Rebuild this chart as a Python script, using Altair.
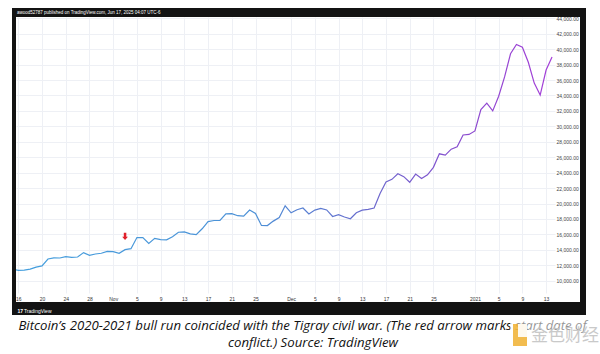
import altair as alt
import pandas as pd

# ---- data (daily closes) ----
dates = [d.strftime("%Y-%m-%d") for d in pd.date_range("2020-10-15", "2021-01-14", freq="D")]
closes = [
    11500, 11330, 11370, 11500, 11750, 11910, 12810, 12960, 12940, 13120, 13030,
    13070, 13640, 13280, 13460, 13560, 13800,
    13760, 13550, 14020, 14150, 15590, 15580, 14830, 15480, 15330, 15300, 15700,
    16280, 16320, 16070, 15960, 16730, 17660, 17800, 17820, 18660, 18690, 18420,
    18370, 19160, 18720, 17150, 17140, 17720, 18180, 19700,
    18800, 19200, 19420, 18650, 19150, 19360, 19170, 18320, 18550, 18250, 18030,
    18800, 19140, 19250, 19420, 21310, 22800, 23130, 23860, 23480, 22750, 23820,
    23240, 23720, 24690, 26440, 26260, 27040, 27360, 28880, 28950,
    29400, 32180, 33000, 32000, 33900, 36400, 39400, 40600, 40250, 38300, 35600,
    34050, 37300, 39000,
]
tick_dates = ["2020-10-16", "2020-10-20", "2020-10-24", "2020-10-28", "2020-11-01",
              "2020-11-05", "2020-11-09", "2020-11-13", "2020-11-17", "2020-11-21",
              "2020-11-25", "2020-12-01", "2020-12-05", "2020-12-09", "2020-12-13",
              "2020-12-17", "2020-12-21", "2020-12-25", "2021-01-01", "2021-01-05",
              "2021-01-09", "2021-01-13"]
tick_labels = ["16", "20", "24", "28", "Nov", "5", "9", "13", "17", "21", "25",
               "Dec", "5", "9", "13", "17", "21", "25", "2021", "5", "9", "13"]
price_ticks = list(range(10000, 44001, 2000))
arrow_date = ["2020-11-03"]
arrow_price = [15730]

header = "awood52787 published on TradingView.com, Jun 17, 2025 04:07 UTC-6"
caption1 = "Bitcoin\u2019s 2020-2021 bull run coincided with the Tigray civil war. (The red arrow marks start date of"
caption2 = "conflict.) Source: TradingView"

df = pd.DataFrame({"date": dates, "close": closes})
arrow_df = pd.DataFrame({"date": arrow_date, "close": arrow_price})
one = pd.DataFrame({"k": [0]})

tick_ms = [int(pd.Timestamp(t, tz="UTC").timestamp() * 1000) for t in tick_dates]
label_expr = "[" + ",".join('"%s"' % l for l in tick_labels) + "][indexof([" + \
    ",".join(str(t) for t in tick_ms) + "], time(datum.value))]"

W, H = 539, 276

x_scale = alt.Scale(type="utc",
                    domain=[alt.DateTime(year=2020, month=10, date=15, hours=14, minutes=40, utc=True),
                            alt.DateTime(year=2021, month=1, date=14, hours=12, utc=True)])
y_scale = alt.Scale(domain=[8406, 44168], nice=False, zero=False)

x_axis = alt.Axis(values=tick_ms, labelExpr=label_expr, title=None, ticks=False, domain=False,
                  grid=True, gridColor="#eef0f5", gridWidth=1, labelFontSize=5,
                  labelColor="#333333", labelFont="Liberation Sans", labelPadding=3,
                  labelOverlap=False, labelFlush=False)
y_axis = alt.Axis(orient="right", values=price_ticks, format=",.2f", title=None, ticks=False,
                  domain=False, grid=True, gridColor="#eef0f5", gridWidth=1, labelFontSize=5,
                  labelColor="#444444", labelFont="Liberation Sans", labelPadding=1,
                  labelOverlap=False, labelFlush=False)

grad = alt.Gradient(gradient="linear",
                    stops=[alt.GradientStop(color="#45a0de", offset=0),
                           alt.GradientStop(color="#4c90d6", offset=0.45),
                           alt.GradientStop(color="#6a6acd", offset=0.66),
                           alt.GradientStop(color="#8c4acf", offset=0.85),
                           alt.GradientStop(color="#a43ed8", offset=1)],
                    x1=0, x2=1, y1=0, y2=0)

line = alt.Chart(df).mark_line(color=grad, strokeWidth=1.2, clip=True).encode(
    x=alt.X("date:T", scale=x_scale, axis=x_axis),
    y=alt.Y("close:Q", scale=y_scale, axis=y_axis),
)

arrow_path = "M-0.35,-1 L0.35,-1 L0.35,0.1 L0.8,0.1 L0,1 L-0.8,0.1 L-0.35,0.1 Z"
arrow = alt.Chart(arrow_df).mark_point(shape=arrow_path, filled=True, color="#e0202a",
                                       opacity=1, size=52).encode(
    x=alt.X("date:T", scale=x_scale, axis=x_axis), y=alt.Y("close:Q", scale=y_scale, axis=y_axis))


def rect(x1, x2, y1, y2, color, opacity=1.0):
    return alt.Chart(one).mark_rect(color=color, opacity=opacity).encode(
        x=alt.value(x1), x2=alt.value(x2), y=alt.value(y1), y2=alt.value(y2))


def text(s, x, y, size, color, align="left", font="Liberation Sans", style="normal",
         weight="normal", opacity=1.0):
    return alt.Chart(one).mark_text(text=s, align=align, baseline="middle", fontSize=size,
                                    color=color, font=font, fontStyle=style,
                                    fontWeight=weight, opacity=opacity).encode(
        x=alt.value(x), y=alt.value(y))


# plot origin is at (16, 17) of the page
frame = [
    rect(-4, 570, -9, 0, "#131313"),
    rect(-4, 0, -9, 298, "#131313"),
    rect(564, 570, -9, 298, "#131313"),
    rect(-4, 570, 285, 298, "#131313"),
]
texts = [
    text(header, 1, -4.5, 4.5, "#ffffff"),
    text("17", 1.5, 294, 5, "#ffffff", weight="bold"),
    text("TradingView", 8, 294, 5, "#ffffff"),
    text(caption1, 286.5, 309, 13.2, "#111111", align="center",
         font="Open Sans", style="italic"),
    text(caption2, 297, 326, 13.2, "#111111", align="center",
         font="Open Sans", style="italic"),
]
watermark = [
    rect(494, 584, 301, 335, "#ffffff", 0.55),
    rect(497, 511, 307, 329, "#f0b030", 0.85),
    rect(502, 511, 307, 320, "#ffffff", 0.9),
    text("金色财经", 515, 319, 17, "#c4c4c4", font="Noto Sans CJK SC", opacity=0.9),
]

chart = alt.layer(line, arrow, *frame, *texts, *watermark).properties(
    width=W, height=H,
    autosize=alt.AutoSizeParams(type="none"),
    padding={"left": 16, "top": 17, "right": 45, "bottom": 61},
    background="#ffffff",
).configure_view(stroke=None).configure_axis(labelOverlap=False)

chart.save("out.html", embed_options={"renderer": "svg", "actions": False})
